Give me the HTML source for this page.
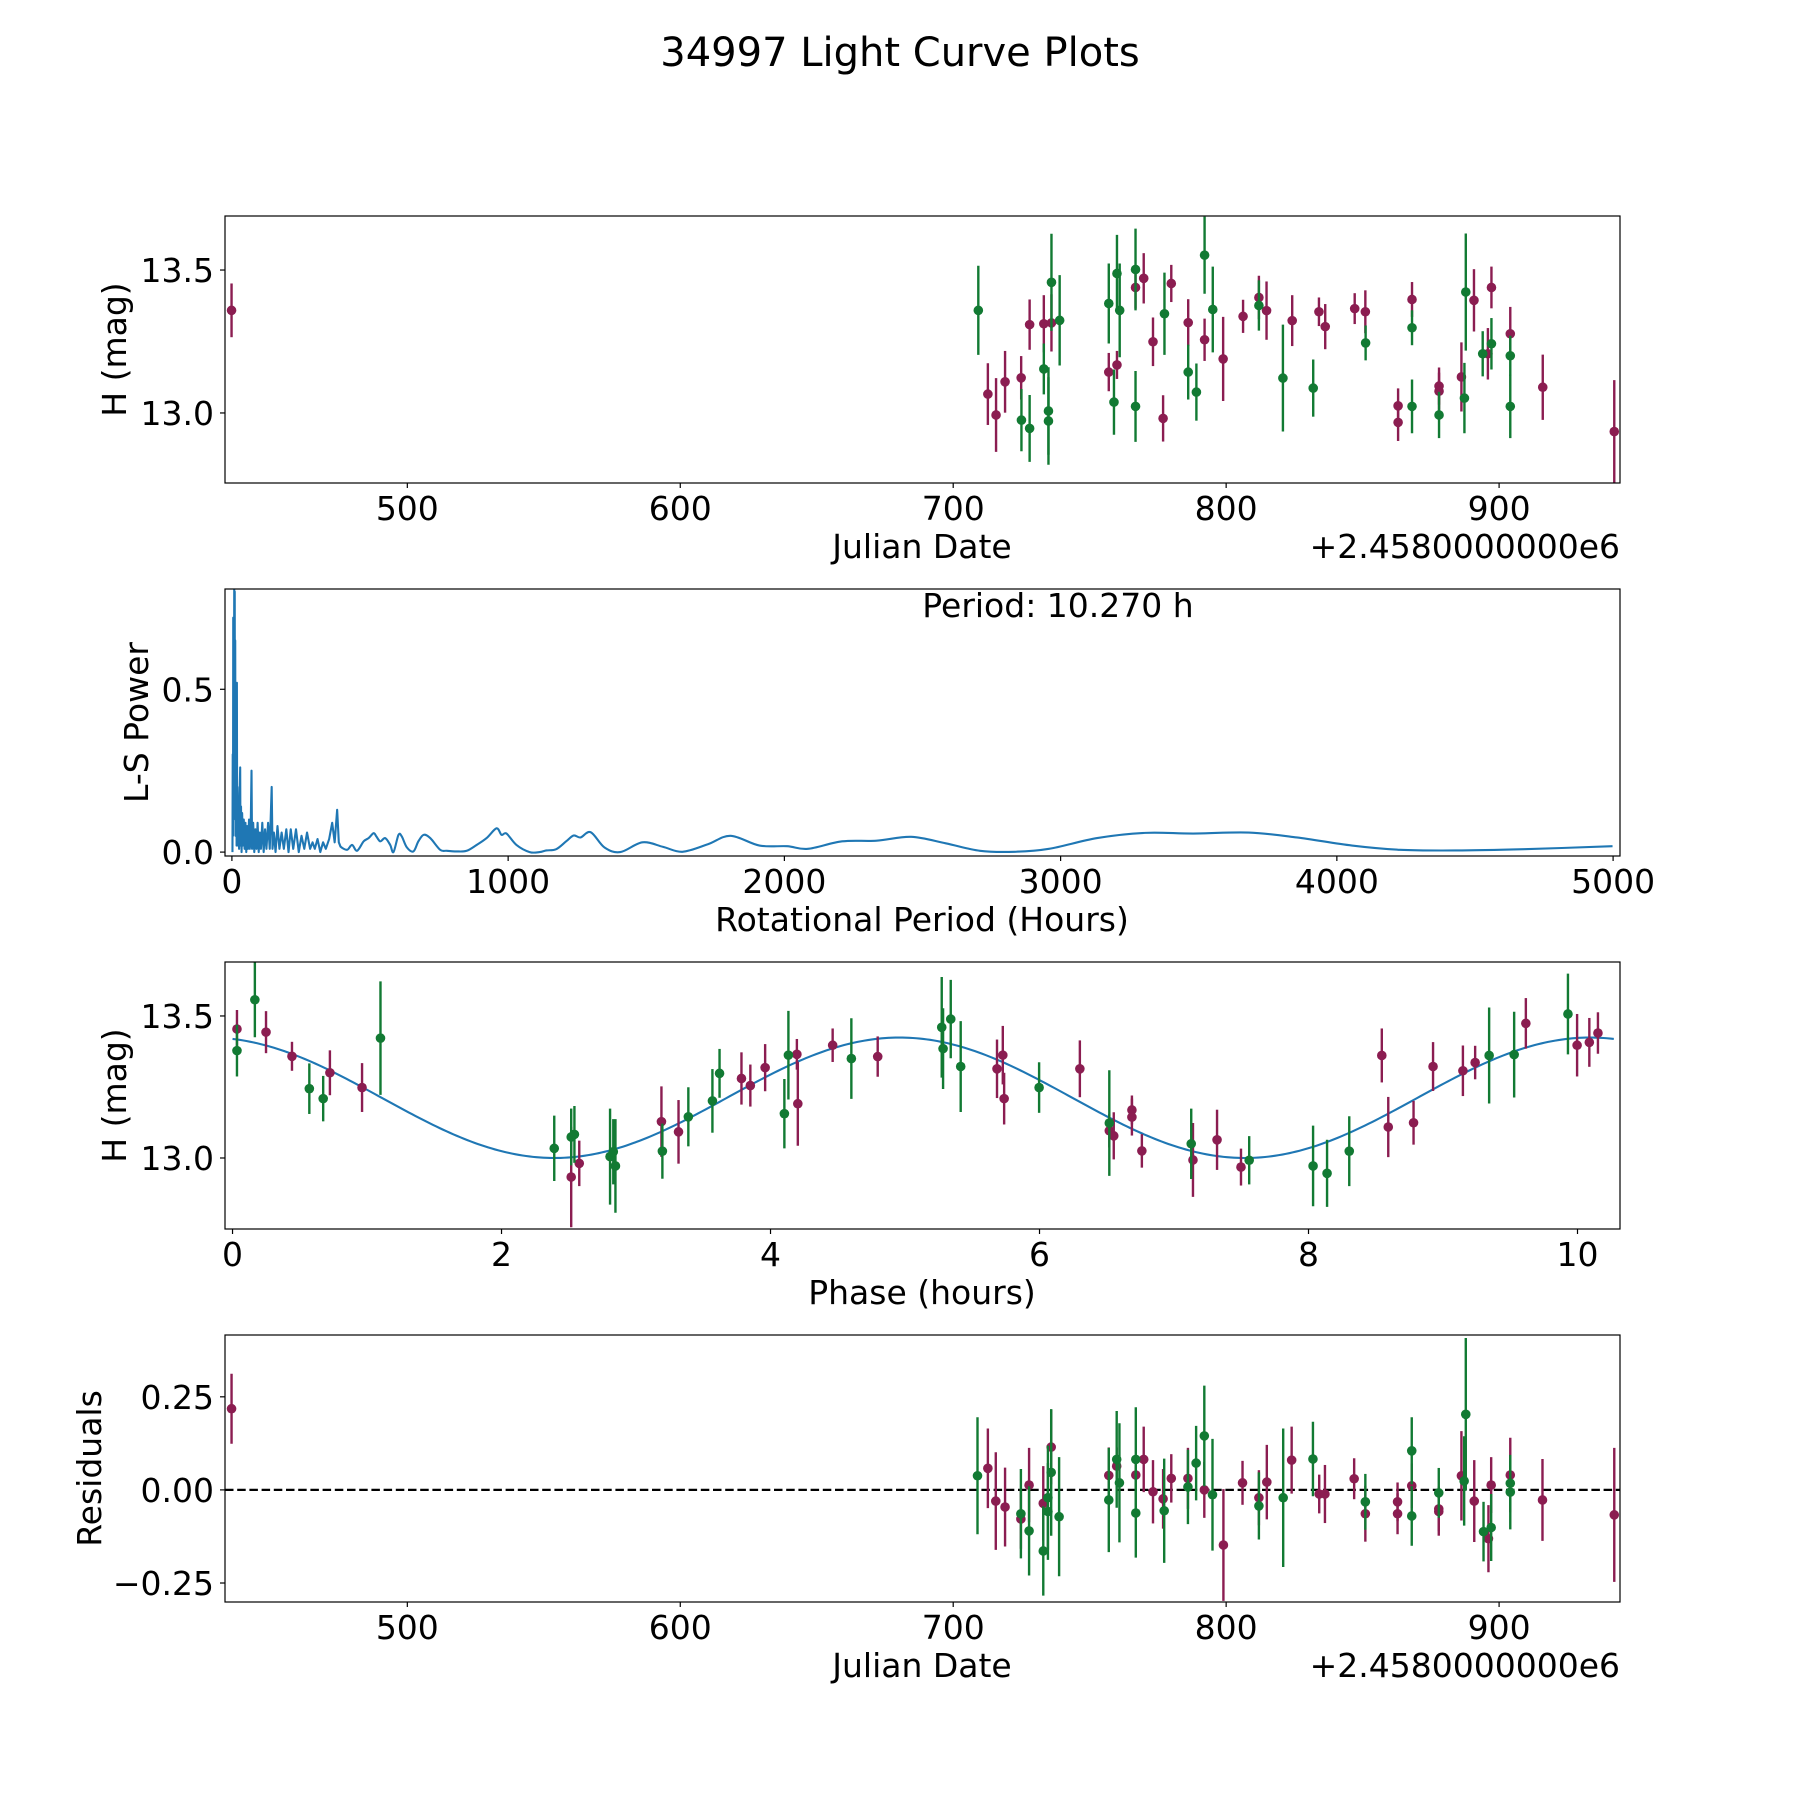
<!DOCTYPE html>
<html><head><meta charset="utf-8"><title>34997 Light Curve Plots</title>
<style>
html,body{margin:0;padding:0;background:#fff;}
svg{display:block;font-family:"DejaVu Sans","Liberation Sans",sans-serif;}
</style></head>
<body>
<svg id="fig" width="1800" height="1800" viewBox="0 0 1800 1800" xmlns="http://www.w3.org/2000/svg">
<rect width="1800" height="1800" fill="#fff"/>
<text x="900" y="66" font-size="40" text-anchor="middle">34997 Light Curve Plots</text>
</svg>
<script>
// ---------- Panel 1: light curve (JD - 2458000) ----------
const jdM  = [435.6,712.7,715.7,719.0,724.9,728.0,733.2,736.0,757.0,760.0,766.8,769.8,773.2,776.9,779.9,786.1,792.1,798.9,806.2,812.0,814.8,824.2,834.0,836.3,847.1,851.0,863.0,863.0,868.1,878.0,878.0,886.2,890.8,895.9,897.2,904.1,916.0,942.2];
const magM = [13.359,13.066,12.993,13.109,13.123,13.309,13.312,13.315,13.143,13.168,13.439,13.471,13.249,12.981,13.453,13.316,13.256,13.189,13.338,13.404,13.358,13.323,13.354,13.302,13.365,13.354,13.025,12.967,13.397,13.094,13.076,13.126,13.394,13.207,13.439,13.277,13.090,12.935];
const errM = [0.094,0.108,0.129,0.108,0.076,0.088,0.100,0.100,0.067,0.049,0.074,0.088,0.085,0.081,0.065,0.082,0.074,0.147,0.058,0.076,0.102,0.089,0.050,0.079,0.054,0.075,0.061,0.065,0.061,0.065,0.065,0.121,0.109,0.090,0.073,0.094,0.114,0.180];
const jdG  = [709.2,725.0,728.0,733.2,736.0,734.9,734.9,739.0,757.0,758.9,760.0,761.0,766.8,766.8,777.4,786.1,789.1,792.1,795.1,812.0,820.8,831.9,851.1,868.1,868.1,878.0,887.3,887.8,894.0,897.2,904.1,904.1];
const magG = [13.359,12.975,12.946,13.154,13.457,13.007,12.972,13.324,13.383,13.038,13.488,13.359,13.502,13.023,13.347,13.143,13.073,13.552,13.362,13.376,13.122,13.087,13.245,13.023,13.298,12.993,13.052,13.423,13.207,13.242,13.200,13.023];
const errG = [0.156,0.109,0.117,0.089,0.170,0.153,0.153,0.158,0.140,0.114,0.135,0.164,0.143,0.124,0.144,0.096,0.100,0.135,0.150,0.088,0.187,0.100,0.061,0.094,0.061,0.081,0.123,0.205,0.079,0.090,0.070,0.111];
const jdTicks = [500,600,700,800,900];
const magTicks = [13.0,13.5];
const magTickLabels = ["13.0","13.5"];

// ---------- Panel 2: Lomb-Scargle periodogram ----------
const lsPeriod = [2,3,4,4.8,5.5,6,7,8.4,9,10.27,11,12,13,14,15,16,17,18,19,20,22,24,26,28,30,31,33,35,37,40,43,46,49,52,55,58,62,65,68,71,73,77,81,85,89,93,97,101,105,110,115,120,125,131,137,141,144,147,152,158,165,172,180,188,197,205,213,222,232,242,252,262,272,283,292,300,310,320,330,340,352,363,372,381,387,393,417,435,453,477,495,513,523,537,555,573,585,603,615,633,657,675,694,718,754,778,814,850,886,922,958,976,994,1030,1078,1114,1138,1174,1210,1237,1262,1299,1349,1406,1486,1561,1631,1723,1805,1910,2010,2085,2209,2334,2459,2584,2708,2833,2958,3132,3307,3481,3681,3855,4055,4229,4429,4678,4998];
const lsPower  = [0.0,0.3,0.05,0.72,0.1,0.55,0.2,0.81,0.3,0.8,0.2,0.65,0.05,0.4,0.1,0.3,0.02,0.52,0.05,0.2,0.02,0.15,0.01,0.18,0.26,0.02,0.14,0.0,0.12,0.02,0.1,0.01,0.09,0.0,0.08,0.01,0.1,0.01,0.07,0.25,0.01,0.09,0.0,0.07,0.01,0.09,0.0,0.06,0.01,0.09,0.0,0.07,0.01,0.09,0.01,0.12,0.2,0.01,0.06,0.0,0.08,0.01,0.06,0.01,0.07,0.0,0.07,0.01,0.07,0.0,0.05,0.01,0.06,0.01,0.03,0.01,0.04,0.0,0.03,0.01,0.04,0.09,0.03,0.13,0.03,0.017,0.007,0.022,0.004,0.033,0.043,0.058,0.048,0.033,0.043,0.022,0.0,0.053,0.048,0.015,0.002,0.033,0.053,0.043,0.007,0.004,0.002,0.004,0.022,0.043,0.073,0.053,0.057,0.022,0.0,0.0,0.005,0.009,0.033,0.051,0.045,0.061,0.014,0.0,0.03,0.016,0.001,0.024,0.05,0.02,0.018,0.01,0.033,0.035,0.047,0.027,0.004,0.001,0.01,0.043,0.059,0.057,0.06,0.045,0.02,0.007,0.005,0.009,0.018];
const lsXTicks = [0,1000,2000,3000,4000,5000];
const lsYTicks = [0.0,0.5];
const lsYTickLabels = ["0.0","0.5"];
const bestPeriod = [10.270];

// ---------- Panel 3: phased light curve ----------
const phM  = [0.033,0.249,0.442,0.724,0.963,2.518,2.578,3.189,3.316,3.784,3.850,3.960,4.196,4.203,4.462,4.797,5.684,5.727,5.737,6.300,6.519,6.552,6.687,6.687,6.761,7.141,7.320,7.498,8.545,8.593,8.781,8.926,9.148,9.239,9.616,9.997,10.088,10.152];
const pmagM= [13.454,13.443,13.358,13.300,13.248,12.933,12.981,13.128,13.092,13.280,13.255,13.318,13.365,13.191,13.397,13.357,13.314,13.362,13.209,13.314,13.096,13.078,13.169,13.144,13.025,12.993,13.064,12.968,13.361,13.109,13.124,13.322,13.307,13.336,13.474,13.397,13.407,13.440];
const perrM= [0.067,0.074,0.051,0.079,0.086,0.177,0.080,0.124,0.112,0.092,0.074,0.083,0.054,0.148,0.059,0.071,0.103,0.103,0.091,0.100,0.059,0.083,0.051,0.065,0.059,0.130,0.106,0.065,0.095,0.106,0.077,0.086,0.089,0.059,0.089,0.110,0.086,0.073];
const phG  = [0.033,0.166,0.571,0.674,1.100,2.392,2.518,2.542,2.807,2.831,2.847,3.196,3.389,3.568,3.621,4.103,4.133,4.601,5.273,5.283,5.340,5.414,5.997,6.519,7.128,7.559,8.034,8.138,8.303,9.343,9.529,9.929];
const pmagG= [13.378,13.557,13.244,13.209,13.422,13.034,13.074,13.083,13.005,13.022,12.972,13.024,13.145,13.201,13.298,13.156,13.362,13.350,13.460,13.385,13.489,13.322,13.248,13.123,13.050,12.992,12.972,12.946,13.024,13.361,13.364,13.507];
const perrG= [0.091,0.132,0.089,0.080,0.200,0.115,0.100,0.100,0.169,0.115,0.165,0.097,0.104,0.112,0.086,0.122,0.156,0.142,0.177,0.142,0.138,0.160,0.089,0.186,0.124,0.085,0.142,0.118,0.123,0.169,0.151,0.142];
// sinusoidal fit parameters: [mean mag, amplitude, phase of max (h), half-period (h)]
const fitParams = [13.212,0.212,4.96,5.135];
const phXTicks = [0,2,4,6,8,10];

// ---------- Panel 4: residuals ----------
const rjdM = [435.6,712.7,715.6,719.0,724.8,727.8,733.0,735.9,757.0,759.9,766.9,769.8,773.2,776.9,779.9,786.0,792.0,799.0,806.0,812.0,814.9,824.0,834.1,836.2,846.9,851.0,862.8,862.8,868.0,877.9,877.9,886.2,890.9,896.1,897.1,904.1,915.9,942.2];
const resM = [0.218,0.058,-0.030,-0.046,-0.078,0.013,-0.036,0.115,0.039,0.064,0.040,0.082,-0.005,-0.024,0.031,0.031,0.000,-0.148,0.019,-0.021,0.021,0.080,-0.011,-0.011,0.030,-0.064,-0.032,-0.064,0.011,-0.051,-0.058,0.038,-0.030,-0.131,0.013,0.040,-0.027,-0.067];
const rerrM= [0.094,0.107,0.131,0.106,0.080,0.100,0.100,0.100,0.075,0.050,0.050,0.088,0.085,0.080,0.065,0.082,0.075,0.150,0.059,0.074,0.100,0.090,0.052,0.078,0.055,0.075,0.052,0.055,0.060,0.060,0.065,0.120,0.110,0.090,0.075,0.100,0.110,0.180];
const rjdG = [708.9,724.8,727.8,733.0,734.7,734.7,735.9,738.8,757.0,759.9,760.9,766.9,766.9,777.3,786.0,789.0,792.0,795.0,812.0,820.9,831.8,851.0,868.0,868.0,877.9,887.2,887.8,894.3,897.1,904.1,904.1];
const resG = [0.038,-0.064,-0.110,-0.164,-0.021,-0.058,0.047,-0.072,-0.027,0.082,0.019,0.082,-0.062,-0.056,0.008,0.072,0.145,-0.013,-0.043,-0.021,0.083,-0.032,0.105,-0.070,-0.008,0.024,0.203,-0.112,-0.101,0.018,-0.006];
const rerrG= [0.157,0.120,0.120,0.120,0.140,0.130,0.170,0.160,0.140,0.130,0.160,0.140,0.120,0.140,0.100,0.100,0.135,0.150,0.090,0.186,0.100,0.075,0.090,0.080,0.067,0.120,0.205,0.080,0.090,0.060,0.100];
const resTicks = [-0.25,0.0,0.25];
const resTickLabels = ["\u22120.25","0.00","0.25"];

// ---------- drawing ----------
const NS = "http://www.w3.org/2000/svg";
const svg = document.getElementById("fig");
const MAG = "#8b1d51", GRN = "#127a33", BLUE = "#1f77b4";
const AX_L = 225, AX_R = 1620, AX_H = 267;
const TOPS = [216, 589, 962, 1335];
const FS = 33;

function el(tag, attrs, parent) {
  const e = document.createElementNS(NS, tag);
  for (const k in attrs) e.setAttribute(k, attrs[k]);
  (parent || svg).appendChild(e);
  return e;
}
function scale(d0, d1, p0, p1) { return v => p0 + (v - d0) * (p1 - p0) / (d1 - d0); }

function makeAxes(idx, name, xlim, ylim) {
  const top = TOPS[idx], bot = top + AX_H;
  const g = el("g", {});
  
  
  const clip = el("clipPath", {id: "clip" + idx}, g);
  el("rect", {x: AX_L, y: top, width: AX_R - AX_L, height: AX_H}, clip);
  const plot = el("g", {"clip-path": "url(#clip" + idx + ")"}, g);
  
  
  return {g, plot, top, bot, x: scale(xlim[0], xlim[1], AX_L, AX_R), y: scale(ylim[0], ylim[1], bot, top)};
}
function frame(ax, name) {
  const r = el("rect", {x: AX_L, y: ax.top, width: AX_R - AX_L, height: AX_H, fill: "none", stroke: "#000", "stroke-width": 1.2}, ax.g);
  
  
}
function xTicks(ax, vals, labels, name) {
  vals.forEach((v, i) => {
    const px = ax.x(v);
    el("line", {x1: px, x2: px, y1: ax.bot, y2: ax.bot + 5, stroke: "#000", "stroke-width": 1.2}, ax.g);
    const t = el("text", {x: px, y: ax.bot + 37, "font-size": FS, "text-anchor": "middle"}, ax.g);
    
    
    t.textContent = labels[i];
  });
}
function yTicks(ax, vals, labels, name) {
  vals.forEach((v, i) => {
    const py = ax.y(v);
    el("line", {x1: AX_L - 5, x2: AX_L, y1: py, y2: py, stroke: "#000", "stroke-width": 1.2}, ax.g);
    const t = el("text", {x: AX_L - 11, y: py + 12, "font-size": FS, "text-anchor": "end"}, ax.g);
    
    
    t.textContent = labels[i];
  });
}
function label(text, x, y, rot, name, anchor) {
  const t = el("text", {x: x, y: y, "font-size": FS, "text-anchor": anchor || "middle"});
  if (rot) t.setAttribute("transform", "rotate(-90 " + x + " " + y + ")");
  
  
  t.textContent = text;
}
function errPoints(ax, xs, ys, es, color, name) {
  xs.forEach((xv, i) => {
    const px = ax.x(xv), py = ax.y(ys[i]);
    const ln = el("line", {x1: px, x2: px, y1: ax.y(ys[i] - es[i]), y2: ax.y(ys[i] + es[i]), stroke: color, "stroke-width": 2.4}, ax.plot);
    
    
    const c = el("circle", {cx: px, cy: py, r: 4.8, fill: color}, ax.plot);
    
    
  });
}
function fmt(v) { return String(v); }

// Panel 1
const a1 = makeAxes(0, "light-curve-panel", [433.2, 944.3], [12.755, 13.689]);
errPoints(a1, jdM, magM, errM, MAG, "magenta-observation");
errPoints(a1, jdG, magG, errG, GRN, "green-observation");
frame(a1, "light-curve-panel");
xTicks(a1, jdTicks, jdTicks.map(fmt), "julian-date");
yTicks(a1, magTicks, magTickLabels, "magnitude");
label("Julian Date", 922, 558, false, "x-axis-title-julian-date");
label("+2.4580000000e6", 1620, 558, false, "x-axis-offset-text", "end");
label("H (mag)", 126, a1.top + AX_H / 2, true, "y-axis-title-magnitude");

// Panel 2
const a2 = makeAxes(1, "periodogram-panel", [-25, 5025], [-0.012, 0.808]);
const pts = lsPeriod.map((p, i) => [a2.x(p), a2.y(lsPower[i])]);
let d = "M" + pts[0][0].toFixed(2) + " " + pts[0][1].toFixed(2);
for (let i = 1; i < pts.length; i++) {
  if (lsPeriod[i] < 400) { d += "L" + pts[i][0].toFixed(2) + " " + pts[i][1].toFixed(2); continue; }
  const p0 = pts[i - 2] || pts[i - 1], p1 = pts[i - 1], p2 = pts[i], p3 = pts[i + 1] || pts[i];
  const c1x = p1[0] + (p2[0] - p0[0]) / 6, c1y = p1[1] + (p2[1] - p0[1]) / 6;
  const c2x = p2[0] - (p3[0] - p1[0]) / 6, c2y = p2[1] - (p3[1] - p1[1]) / 6;
  d += "C" + c1x.toFixed(2) + " " + c1y.toFixed(2) + " " + c2x.toFixed(2) + " " + c2y.toFixed(2) + " " + p2[0].toFixed(2) + " " + p2[1].toFixed(2);
}
const lsLine = el("path", {d: d, fill: "none", stroke: BLUE, "stroke-width": 2.1, "stroke-linejoin": "round"}, a2.plot);


frame(a2, "periodogram-panel");
xTicks(a2, lsXTicks, lsXTicks.map(fmt), "period");
yTicks(a2, lsYTicks, lsYTickLabels, "power");
label("Rotational Period (Hours)", 922, a2.bot + 75, false, "x-axis-title-rotational-period");
label("L-S Power", 148, a2.top + AX_H / 2, true, "y-axis-title-ls-power");
label("Period: " + bestPeriod[0].toFixed(3) + " h", 1058, 617, false, "best-period-annotation");

// Panel 3
const a3 = makeAxes(2, "phased-curve-panel", [-0.056, 10.316], [12.75, 13.69]);
let dm = "";
for (let i = 0; i <= 400; i++) {
  const ph = 10.27 * i / 400;
  const m = fitParams[0] + fitParams[1] * Math.cos(2 * Math.PI * (ph - fitParams[2]) / fitParams[3]);
  dm += (i ? "L" : "M") + a3.x(ph).toFixed(2) + " " + a3.y(m).toFixed(2);
}
const fitLine = el("path", {d: dm, fill: "none", stroke: BLUE, "stroke-width": 2.1}, a3.plot);


errPoints(a3, phM, pmagM, perrM, MAG, "magenta-phased-observation");
errPoints(a3, phG, pmagG, perrG, GRN, "green-phased-observation");
frame(a3, "phased-curve-panel");
xTicks(a3, phXTicks, phXTicks.map(fmt), "phase");
yTicks(a3, magTicks, magTickLabels, "phased-magnitude");
label("Phase (hours)", 922, a3.bot + 75, false, "x-axis-title-phase");
label("H (mag)", 126, a3.top + AX_H / 2, true, "y-axis-title-phased-magnitude");

// Panel 4
const a4 = makeAxes(3, "residuals-panel", [433.2, 944.3], [-0.301, 0.416]);
const zl = el("line", {x1: AX_L, x2: AX_R, y1: a4.y(0), y2: a4.y(0), stroke: "#000", "stroke-width": 2.2, "stroke-dasharray": "8.5 3.7"}, a4.plot);


errPoints(a4, rjdM, resM, rerrM, MAG, "magenta-residual");
errPoints(a4, rjdG, resG, rerrG, GRN, "green-residual");
frame(a4, "residuals-panel");
xTicks(a4, jdTicks, jdTicks.map(fmt), "residual-julian-date");
yTicks(a4, resTicks, resTickLabels, "residual");
label("Julian Date", 922, a4.bot + 75, false, "x-axis-title-residual-julian-date");
label("+2.4580000000e6", 1620, a4.bot + 75, false, "residual-x-axis-offset-text", "end");
label("Residuals", 101, a4.top + AX_H / 2, true, "y-axis-title-residuals");
</script>
</body></html>
